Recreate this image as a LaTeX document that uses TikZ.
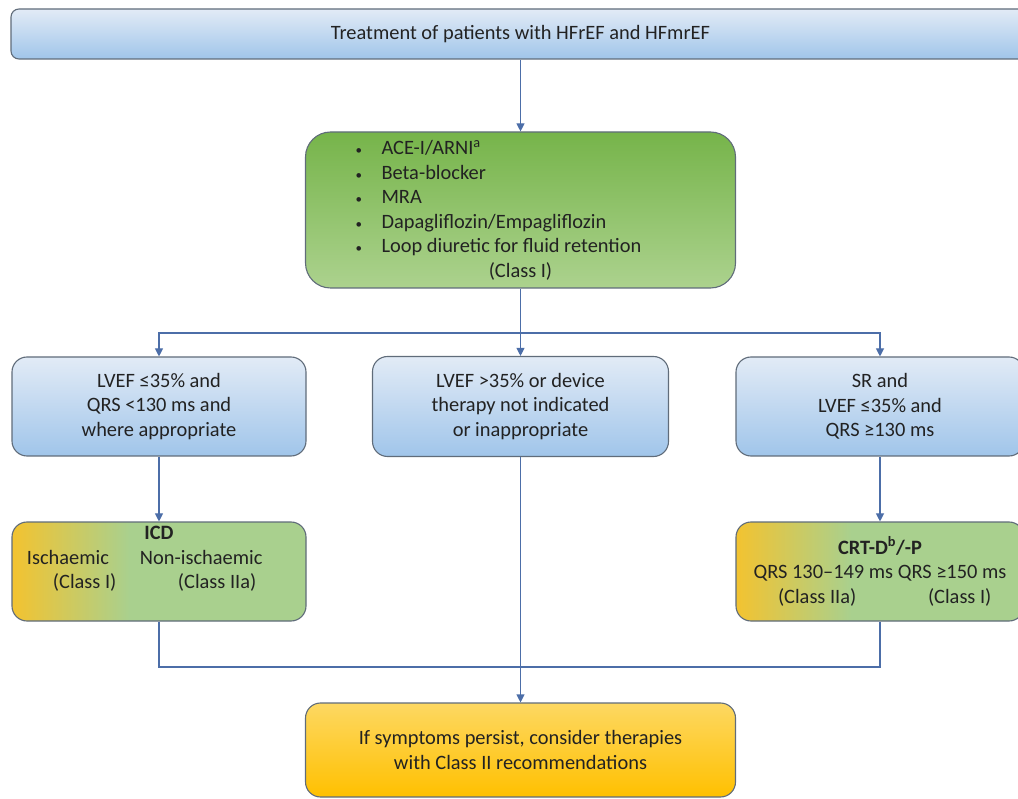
\documentclass[tikz,border=0pt]{standalone}
\usepackage{fontspec}
\setmainfont{Carlito}
\usepackage{xcolor}
\usepackage{tikz}
\usetikzlibrary{shapes,arrows.meta,positioning,calc}

\definecolor{lineblue}{RGB}{76,110,168}
\definecolor{boxgray}{RGB}{96,108,122}
\definecolor{blueA}{RGB}{226,235,246}
\definecolor{blueB}{RGB}{160,197,234}
\definecolor{greenA}{RGB}{118,180,74}
\definecolor{greenB}{RGB}{172,210,142}
\definecolor{devyellow}{RGB}{243,195,48}
\definecolor{devgreen}{RGB}{169,208,142}
\definecolor{orangeA}{RGB}{253,216,98}
\definecolor{orangeB}{RGB}{255,192,0}
\definecolor{textgray}{RGB}{34,34,34}

\pgfdeclarehorizontalshading{deviceshade}{100bp}{color(0bp)=(devyellow); color(25bp)=(devyellow); color(45bp)=(devgreen); color(100bp)=(devgreen)}
\newcommand{\drugitem}[1]{\makebox[330pt][l]{\makebox[26pt][l]{\fontsize{13}{13}\selectfont\textbullet}#1}}

\begin{document}
\begin{tikzpicture}[x=1pt,y=-1pt,
    font=\fontsize{20.4}{24.5}\selectfont, text=textgray,
    box/.style={draw=boxgray, line width=1.1pt, rounded corners=15pt, align=center, inner sep=0pt},
    bluebox/.style={box, top color=blueA, bottom color=blueB},
    drugbox/.style={box, rounded corners=25pt, top color=greenA, bottom color=greenB},
    devicebox/.style={box, shading=deviceshade},
    endbox/.style={box, top color=orangeA, bottom color=orangeB},
    link/.style={draw=lineblue, line width=1.1pt},
    arr/.style={link, -{Triangle[width=8pt,length=8pt]}}]
    \useasboundingbox (0,0) rectangle (1018,799);

    % Boxes
    \node[bluebox, rounded corners=8pt, minimum width=1019pt, minimum height=50pt] (title) at (520.5,34) {Treatment of patients with HFrEF and HFmrEF};
    \node[drugbox, minimum width=430pt, minimum height=156pt] (drugs) at (520.5,210) {%
        \drugitem{ACE-I/ARNI\textsuperscript{a}}\\
        \drugitem{Beta-blocker}\\
        \drugitem{MRA}\\
        \drugitem{Dapagliflozin/Empagliflozin}\\
        \drugitem{Loop diuretic for fluid retention}\\
        (Class I)};
    \node[bluebox, minimum width=294pt, minimum height=99pt] (lowqrs) at (159,406.5) {LVEF ≤35\% and\\QRS <130 ms and\\where appropriate};
    \node[bluebox, minimum width=296pt, minimum height=100pt] (nodevice) at (520.5,406.5) {LVEF >35\% or device\\therapy not indicated\\or inappropriate};
    \node[bluebox, minimum width=288pt, minimum height=99pt] (highqrs) at (880,406.5) {SR and\\LVEF ≤35\% and\\QRS ≥130 ms};
    \node[devicebox, minimum width=294pt, minimum height=99pt] (icd) at (159,571.5) {\raisebox{12pt}[\height][\depth]{\begin{tabular}{@{}c@{}}
        \textbf{ICD}\\
        \makebox[264pt][l]{\makebox[113pt][l]{Ischaemic}Non-ischaemic}\\
        \makebox[264pt][l]{\hspace*{26pt}\makebox[125pt][l]{(Class I)}(Class IIa)}
        \end{tabular}}};
    \node[devicebox, minimum width=288pt, minimum height=99pt] (crt) at (880,571.5) {\textbf{CRT-D\textsuperscript{b}/-P}\\
        QRS 130--149 ms QRS ≥150 ms\\
        \makebox[250pt][l]{\hspace*{23pt}\makebox[150pt][l]{(Class IIa)}(Class I)}};
    \node[endbox, minimum width=430pt, minimum height=94pt] (persist) at (520.5,750) {If symptoms persist, consider therapies\\with Class II recommendations};

    % Connectors
    \coordinate (split) at (520.5,333);
    \coordinate (join) at (520.5,667);
    \draw[arr] (title) -- (drugs);
    \draw[arr] (drugs) -- (nodevice);
    \draw[arr] (split) -| (lowqrs.north);
    \draw[arr] (split) -| (highqrs.north);
    \draw[arr] (lowqrs) -- (icd);
    \draw[arr] (highqrs) -- (crt);
    \draw[link] (icd.south) |- (join) -| (crt.south);
    \draw[arr] (nodevice) -- (persist);
\end{tikzpicture}
\end{document}
